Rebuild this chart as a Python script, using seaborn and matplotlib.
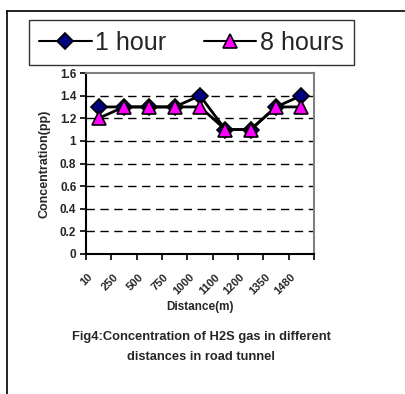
import matplotlib
matplotlib.use("Agg")
import matplotlib.pyplot as plt
import matplotlib.transforms as mtransforms
from matplotlib.lines import Line2D
from matplotlib.ticker import FuncFormatter
import seaborn as sns
import pandas as pd

distances = ["10", "250", "500", "750", "1000", "1100", "1200", "1350", "1480"]
one_hour = [1.3, 1.3, 1.3, 1.3, 1.4, 1.1, 1.1, 1.3, 1.4]
eight_hours = [1.2, 1.3, 1.3, 1.3, 1.3, 1.1, 1.1, 1.3, 1.3]
y_ticks = [0, 0.2, 0.4, 0.6, 0.8, 1.0, 1.2, 1.4, 1.6]

sns.set_theme(style="white")
plt.rcParams["font.family"] = ["Liberation Sans", "DejaVu Sans"]

W, H = 406, 394
fig = plt.figure(figsize=(W / 100, H / 100), dpi=100)
ax = fig.add_axes([86 / W, 1 - 254 / H, 228 / W, 181 / H])

df1 = pd.DataFrame({"Distance": distances, "Concentration": one_hour})
df8 = pd.DataFrame({"Distance": distances, "Concentration": eight_hours})

sns.lineplot(data=df1, x="Distance", y="Concentration", sort=False, ax=ax,
             color="black", lw=2, marker="D", markersize=8.5,
             markerfacecolor="#000080", markeredgecolor="black",
             markeredgewidth=1.2, label="1 hour", zorder=4)
sns.lineplot(data=df8, x="Distance", y="Concentration", sort=False, ax=ax,
             color="black", lw=2, marker="^", markersize=10,
             markerfacecolor="#FF00FF", markeredgecolor="black",
             markeredgewidth=1.2, label="8 hours", zorder=5)

ax.set_ylim(0, 1.6)
ax.set_xlim(-0.5, len(distances) - 0.5)
ax.set_yticks(y_ticks)
ax.yaxis.set_major_formatter(FuncFormatter(lambda v, p: f"{v:g}"))
for v in y_ticks[1:-1]:
    ax.axhline(v, color="black", lw=1, ls=(0, (6, 4)), zorder=1)

ax.set_xticks(range(len(distances)))
ax.set_xticklabels(distances, rotation=45, ha="right", fontsize=8, fontweight="bold")
ax.set_xticks([i - 0.5 for i in range(len(distances) + 1)], minor=True)
ax.tick_params(axis="x", which="major", length=0, pad=13)
ax.tick_params(axis="x", which="minor", length=4, width=1.2, color="black", direction="out", bottom=True)
ax.tick_params(axis="y", which="major", length=4, width=1.2, color="black", direction="out", left=True,
               labelsize=8.5, pad=3)
for lbl in ax.get_yticklabels():
    lbl.set_fontweight("bold")
offset = mtransforms.ScaledTranslation(-4 / 100, 0, fig.dpi_scale_trans)
for lbl in ax.get_xticklabels():
    lbl.set_transform(lbl.get_transform() + offset)

for s in ["left", "bottom"]:
    ax.spines[s].set_color("black")
    ax.spines[s].set_linewidth(1.5)
for s in ["right", "top"]:
    ax.spines[s].set_color("#808080")
    ax.spines[s].set_linewidth(1.5)

ax.set_xlabel("Distance(m)", fontsize=8.5, fontweight="bold")
ax.set_ylabel("Concentration(pp)", fontsize=9, fontweight="bold")
ax.xaxis.set_label_coords(0.5, -0.26)
ax.yaxis.set_label_coords(-0.155, 0.5)

handles, labels = ax.get_legend_handles_labels()
ax.get_legend().remove()
leg = fig.legend(handles, labels, loc="center", ncol=2,
                 bbox_to_anchor=(191.5 / W, 1 - 42.5 / H),
                 fontsize=18, frameon=True, fancybox=False, edgecolor="black",
                 handlelength=2.1, handletextpad=0.15, columnspacing=1.5,
                 borderpad=0.42, borderaxespad=0, markerscale=1.0)
leg.get_frame().set_linewidth(1.0)
for h in leg.legend_handles:
    h.set_linewidth(1.5)

fig.text(201 / W, 1 - 337 / H, "Fig4:Concentration of H2S gas in different",
         ha="center", va="center", fontsize=9.25, fontweight="bold")
fig.text(201 / W, 1 - 357 / H, "distances in road tunnel",
         ha="center", va="center", fontsize=9.25, fontweight="bold")

fig.add_artist(Line2D([7 / W, 1.0], [1 - 11 / H, 1 - 11 / H], color="black", lw=1.2,
                      transform=fig.transFigure))
fig.add_artist(Line2D([7 / W, 7 / W], [1 - 11 / H, 0.0], color="black", lw=1.2,
                      transform=fig.transFigure))

fig.savefig("out.png", dpi=100)
